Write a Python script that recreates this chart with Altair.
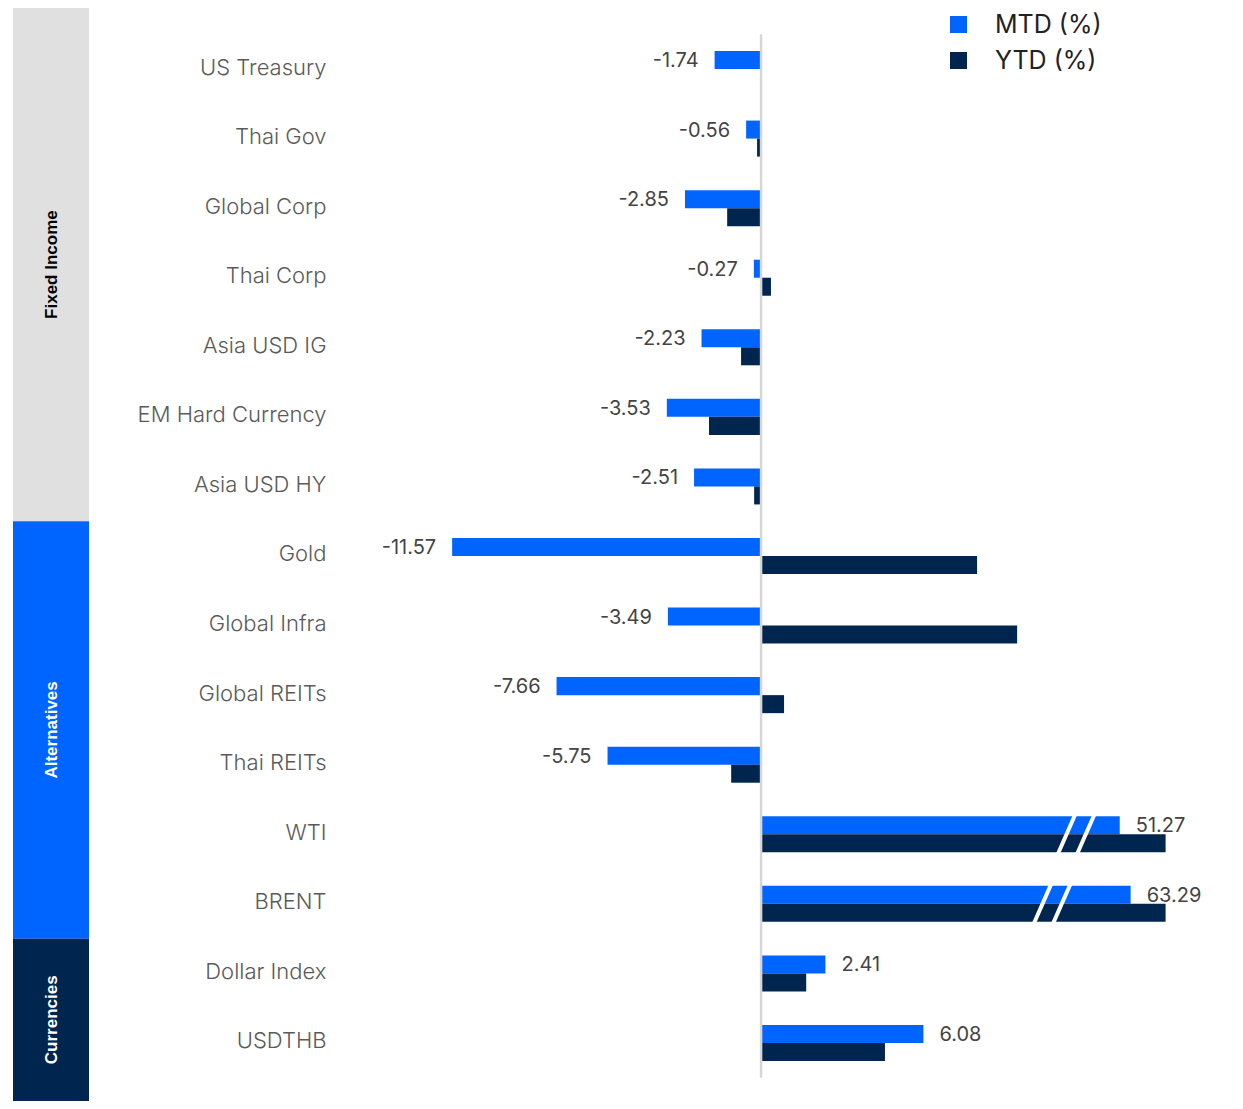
import altair as alt
import pandas as pd

# ---------------- data ----------------
categories = ["US Treasury", "Thai Gov", "Global Corp", "Thai Corp", "Asia USD IG",
              "EM Hard Currency", "Asia USD HY", "Gold", "Global Infra", "Global REITs",
              "Thai REITs", "WTI", "BRENT", "Dollar Index", "USDTHB"]
mtd = [-1.74, -0.56, -2.85, -0.27, -2.23, -3.53, -2.51, -11.57, -3.49, -7.66,
       -5.75, 51.27, 63.29, 2.41, 6.08]
ytd = [0.0, -0.15, -1.27, 0.37, -0.75, -1.95, -0.26, 8.09, 9.59, 0.86,
       -1.12, 110.0, 120.0, 1.69, 4.64]

series = ["MTD (%)", "YTD (%)"]
series_colors = ["#0064ff", "#00264f"]

groups = ["Fixed Income", "Alternatives", "Currencies"]
group_sizes = [7, 6, 2]
group_colors = ["#e0e0e0", "#0064ff", "#00264f"]

# broken-axis marks for the oil rows (centre of the "//" pair, in axis units)
break_items = ["WTI", "BRENT"]
break_centres = [11.8, 10.9]

# broken axis: values above AXIS_BREAK are compressed, bars capped at BAR_CAP
AXIS_BREAK = 12.1
BREAK_SLOPE = 0.034
BAR_CAP = 15.15


def on_axis(v):
    if v <= AXIS_BREAK:
        return v
    return min(AXIS_BREAK + (v - AXIS_BREAK) * BREAK_SLOPE, BAR_CAP)


n = len(categories)
BAR_H = 0.259
Y_MIN = -0.877
Y_MAX = n - 1 + 0.834

FONT = "Inter"

# ---------------- tables ----------------
bar_rows = []
for i, c in enumerate(categories):
    for s, vals, off in ((series[0], mtd, -BAR_H), (series[1], ytd, 0.0)):
        v = vals[i]
        bar_rows.append(dict(category=c, series=s, value=v, zero=0.0, shown=on_axis(v),
                             y0=i + off, y1=i + off + BAR_H))
bars_df = pd.DataFrame(bar_rows)

label_df = pd.DataFrame(dict(
    category=categories, value=mtd, shown=[on_axis(v) for v in mtd],
    y=[i - BAR_H / 2 for i in range(n)], text=[f"{v:.2f}" for v in mtd]))

brk_rows = []
for item, c in zip(break_items, break_centres):
    r = categories.index(item)
    for k in (-1, 1):
        cx = c + k * 0.36
        brk_rows.append(dict(bx0=cx - 0.32, bx1=cx + 0.32, by0=r + 0.28, by1=r - 0.28))
brk_df = pd.DataFrame(brk_rows)

zero_df = pd.DataFrame(dict(x=[0.0], ya=[-0.5], yb=[n - 0.5]))

grp_rows = []
start = 0
for gi, (g, size) in enumerate(zip(groups, group_sizes)):
    lo = Y_MIN if gi == 0 else start - 0.5
    hi = Y_MAX if gi == len(groups) - 1 else start + size - 0.5
    grp_rows.append(dict(group=g, lo=lo, hi=hi, mid=(lo + hi) / 2))
    start += size
grp_df = pd.DataFrame(grp_rows)

# ---------------- scales / axes ----------------
yscale = alt.Scale(domain=[Y_MIN, Y_MAX], reverse=True, nice=False, zero=False)
xscale = alt.Scale(domain=[-15.77, 17.0], nice=False, zero=False)

label_expr = "[" + ",".join("'" + c + "'" for c in categories) + "][datum.value]"
yaxis = alt.Axis(values=list(range(n)), labelExpr=label_expr, title=None, ticks=False,
                 tickSize=0, domain=False, grid=False, labelPadding=14, labelFont=FONT,
                 labelFontSize=22, labelFontWeight=300, labelColor="#5a5a5a",
                 labelOverlap=False, labelBound=False, labelLimit=400, labelOffset=-2)


def Y(field):
    return alt.Y(field, type="quantitative", scale=yscale, axis=yaxis)


def X(field):
    return alt.X(field, type="quantitative", scale=xscale, axis=None)


bars = alt.Chart(bars_df).mark_rect().encode(
    x=X("zero"),
    x2="shown:Q",
    y=Y("y0"),
    y2="y1:Q",
    color=alt.Color("series:N", scale=alt.Scale(domain=series, range=series_colors),
                    legend=alt.Legend(title=None, orient="none", legendX=606, legendY=4,
                                      symbolType="square", symbolSize=290,
                                      symbolStrokeWidth=0, labelFont=FONT,
                                      labelFontSize=25, labelColor="#222222",
                                      rowPadding=10, labelOffset=24, padding=0)),
)

breaks = alt.Chart(brk_df).mark_rule(color="white", strokeWidth=4, strokeCap="butt").encode(
    x=X("bx0"), x2="bx1:Q",
    y=Y("by0"), y2="by1:Q",
)

zero_rule = alt.Chart(zero_df).mark_rule(color="#d6d6d6", strokeWidth=2.5).encode(
    x=X("x"),
    y=Y("ya"), y2="yb:Q",
)

neg_labels = alt.Chart(label_df).transform_filter("datum.value < 0").mark_text(
    align="right", baseline="middle", dx=-16, dy=1, font=FONT, fontSize=20, color="#444444"
).encode(
    x=X("shown"),
    y=Y("y"),
    text="text:N",
)

pos_labels = alt.Chart(label_df).transform_filter("datum.value >= 0").mark_text(
    align="left", baseline="middle", dx=16, dy=1, font=FONT, fontSize=20, color="#444444"
).encode(
    x=X("shown"),
    y=Y("y"),
    text="text:N",
)

main = alt.layer(bars, breaks, zero_rule, neg_labels, pos_labels).properties(
    width=875, height=1093)

gscale = alt.Scale(domain=[Y_MIN, Y_MAX], reverse=True, nice=False, zero=False)
grp_rect = alt.Chart(grp_df).mark_rect().encode(
    x=alt.value(0), x2=alt.value(76),
    y=alt.Y("lo:Q", scale=gscale, axis=None), y2="hi:Q",
    color=alt.Color("group:N", scale=alt.Scale(domain=groups, range=group_colors),
                    legend=None),
)
grp_text = alt.Chart(grp_df).mark_text(
    angle=270, font="Liberation Sans", fontSize=17, fontWeight="bold",
    align="center", baseline="middle"
).encode(
    x=alt.value(39),
    y=alt.Y("mid:Q", scale=gscale, axis=None),
    text="group:N",
    color=alt.condition("datum.group === 'Fixed Income'", alt.value("#000000"),
                        alt.value("#ffffff")),
)
group_panel = alt.layer(grp_rect, grp_text).properties(width=76, height=1093)

chart = alt.hconcat(group_panel, main, spacing=48).resolve_scale(
    color="independent"
).properties(
    padding={"left": 5, "top": 0, "right": 5, "bottom": 0}
).configure_view(stroke=None)

chart.save("out.html", embed_options={"renderer": "svg", "actions": False})
